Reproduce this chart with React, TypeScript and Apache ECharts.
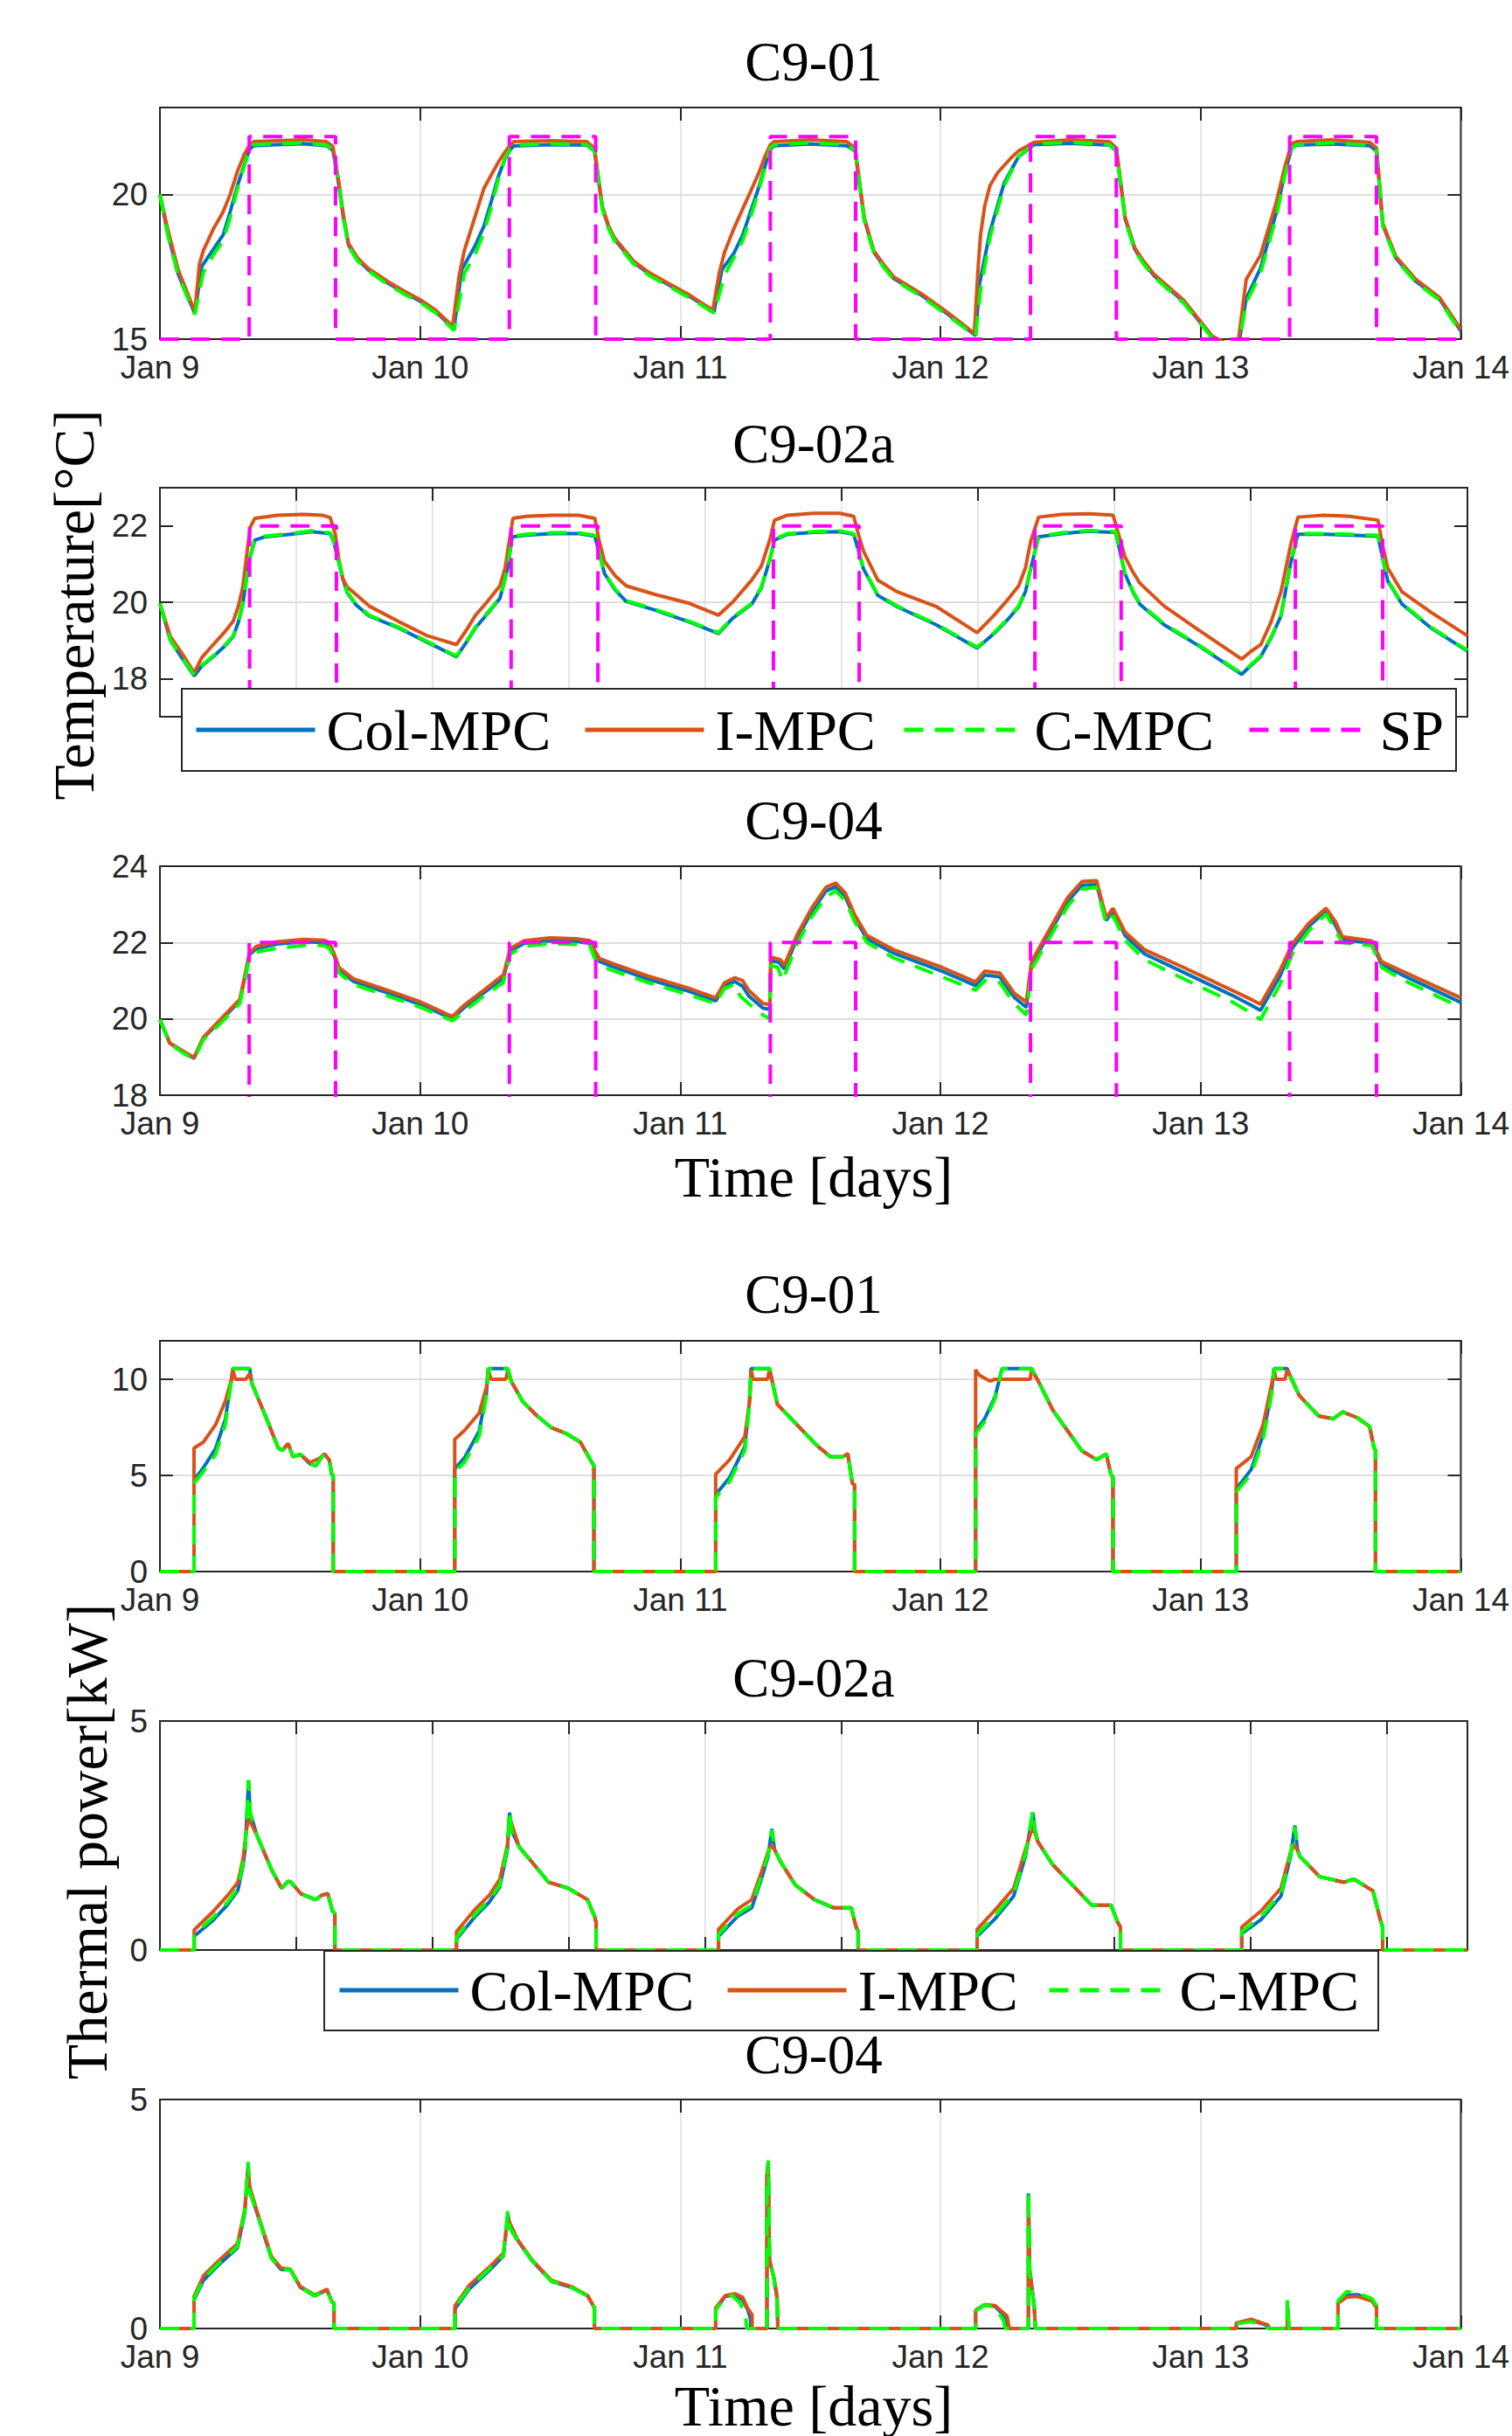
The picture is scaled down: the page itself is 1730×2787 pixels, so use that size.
import React, { useEffect, useRef } from 'react';
import * as echarts from 'echarts';

// ---------- DATA (x = days since Jan 9 00:00) ----------
const xTickDays = [0, 1, 2, 3, 4, 5];
const xTickLabels = ['Jan 9', 'Jan 10', 'Jan 11', 'Jan 12', 'Jan 13', 'Jan 14'];
const panelTitles = ['C9-01', 'C9-02a', 'C9-04', 'C9-01', 'C9-02a', 'C9-04'];

// ---- Temperature C9-01 ----
const t901Col = [[0,20.0],[0.03,18.65],[0.07,17.25],[0.134,15.88],[0.16,17.5],[0.205,18.1],[0.243,18.6],[0.27,19.4],[0.298,20.3],[0.325,21.05],[0.344,21.55],[0.36,21.68],[0.45,21.72],[0.55,21.75],[0.64,21.68],[0.665,21.52],[0.688,20.3],[0.705,19.2],[0.725,18.25],[0.76,17.75],[0.8,17.4],[0.874,16.95],[0.94,16.6],[1.003,16.3],[1.06,15.95],[1.13,15.35],
[1.16,17.4],[1.21,18.2],[1.245,18.9],[1.275,19.8],[1.30,20.6],[1.325,21.2],[1.347,21.55],[1.36,21.67],[1.5,21.72],[1.64,21.7],[1.67,21.5],[1.70,19.55],[1.725,18.85],[1.747,18.45],[1.82,17.65],[1.88,17.25],[1.95,16.9],[2.04,16.45],[2.13,15.95],
[2.16,17.4],[2.205,17.95],[2.24,18.6],[2.27,19.4],[2.30,20.2],[2.325,20.95],[2.345,21.55],[2.36,21.68],[2.5,21.74],[2.64,21.68],[2.672,21.5],[2.707,19.15],[2.744,18.0],[2.78,17.55],[2.82,17.1],[2.93,16.5],[3.03,15.85],[3.135,15.12],
[3.15,16.9],[3.19,18.7],[3.245,20.4],[3.30,21.3],[3.36,21.72],[3.5,21.76],[3.65,21.7],[3.676,21.5],[3.71,19.15],[3.747,18.1],[3.78,17.65],[3.82,17.2],[3.934,16.3],[4.045,15.05],[4.1,14.8],[4.148,14.9],[4.175,16.4],[4.23,17.45],[4.29,19.35],[4.325,20.8],[4.35,21.6],[4.37,21.7],[4.5,21.74],[4.65,21.68],[4.676,21.5],[4.70,18.95],[4.75,17.8],[4.826,17.0],[4.917,16.4],[5.0,15.28]];
const t901I = [[0,20.0],[0.03,18.8],[0.07,17.4],[0.134,15.95],[0.152,17.6],[0.167,18.06],[0.205,18.8],[0.243,19.4],[0.27,20.0],[0.298,20.8],[0.325,21.4],[0.344,21.7],[0.36,21.82],[0.45,21.85],[0.55,21.88],[0.64,21.82],[0.665,21.65],[0.688,20.4],[0.705,19.3],[0.725,18.3],[0.76,17.8],[0.8,17.45],[0.874,17.0],[0.94,16.65],[1.003,16.35],[1.06,16.0],[1.125,15.45],
[1.15,17.2],[1.17,18.06],[1.21,19.2],[1.245,20.2],[1.275,20.7],[1.30,21.1],[1.325,21.45],[1.347,21.7],[1.36,21.82],[1.5,21.85],[1.64,21.82],[1.67,21.6],[1.70,19.6],[1.725,18.9],[1.747,18.5],[1.82,17.7],[1.88,17.3],[1.95,16.95],[2.04,16.5],[2.125,16.0],
[2.15,17.3],[2.17,18.0],[2.205,18.8],[2.24,19.5],[2.27,20.1],[2.30,20.7],[2.325,21.3],[2.345,21.7],[2.36,21.82],[2.5,21.88],[2.64,21.82],[2.672,21.6],[2.707,19.2],[2.744,18.05],[2.78,17.6],[2.82,17.15],[2.93,16.55],[3.03,15.9],[3.13,15.2],
[3.145,17.5],[3.154,18.6],[3.17,19.6],[3.19,20.3],[3.22,20.75],[3.245,21.0],[3.27,21.25],[3.30,21.5],[3.36,21.8],[3.5,21.88],[3.65,21.82],[3.676,21.6],[3.71,19.2],[3.747,18.15],[3.78,17.7],[3.82,17.25],[3.934,16.35],[4.045,15.1],[4.1,14.85],[4.145,14.95],[4.175,17.06],[4.23,17.9],[4.29,19.7],[4.325,21.0],[4.35,21.75],[4.37,21.82],[4.5,21.88],[4.65,21.8],[4.676,21.6],[4.70,19.0],[4.75,17.86],[4.826,17.07],[4.917,16.45],[5.0,15.34]];
const t901C = [[0,20.0],[0.03,18.6],[0.07,17.2],[0.134,15.85],[0.167,17.3],[0.205,17.9],[0.243,18.4],[0.27,19.2],[0.298,20.2],[0.325,21.0],[0.344,21.6],[0.36,21.72],[0.45,21.75],[0.55,21.78],[0.64,21.7],[0.665,21.55],[0.688,20.3],[0.705,19.2],[0.725,18.2],[0.76,17.7],[0.8,17.36],[0.874,16.9],[0.94,16.55],[1.003,16.25],[1.06,15.9],[1.13,15.3],
[1.17,17.27],[1.21,17.9],[1.245,18.67],[1.275,19.6],[1.30,20.5],[1.325,21.2],[1.347,21.6],[1.36,21.7],[1.5,21.75],[1.64,21.72],[1.67,21.5],[1.70,19.5],[1.725,18.8],[1.747,18.4],[1.82,17.6],[1.88,17.2],[1.95,16.85],[2.04,16.4],[2.13,15.9],
[2.17,17.2],[2.205,17.8],[2.24,18.4],[2.27,19.2],[2.30,20.1],[2.325,20.9],[2.345,21.6],[2.36,21.72],[2.5,21.78],[2.64,21.72],[2.672,21.5],[2.707,19.1],[2.744,17.97],[2.78,17.5],[2.82,17.06],[2.93,16.45],[3.03,15.8],[3.135,15.1],
[3.154,16.7],[3.19,18.5],[3.245,20.3],[3.30,21.3],[3.36,21.75],[3.5,21.8],[3.65,21.72],[3.676,21.5],[3.71,19.1],[3.747,18.06],[3.78,17.6],[3.82,17.15],[3.934,16.25],[4.045,15.03],[4.1,14.8],[4.148,14.9],[4.175,16.25],[4.23,17.27],[4.29,19.2],[4.325,20.7],[4.35,21.6],[4.37,21.72],[4.5,21.78],[4.65,21.7],[4.676,21.5],[4.70,18.9],[4.75,17.76],[4.826,16.97],[4.917,16.35],[5.0,15.24]];
const sp901 = [[0,15],[0.343,15],[0.343,22],[0.675,22],[0.675,15],[1.343,15],[1.343,22],[1.675,22],[1.675,15],[2.346,15],[2.346,22],[2.674,22],[2.674,15],[3.346,15],[3.346,22],[3.676,22],[3.676,15],[4.342,15],[4.342,22],[4.676,22],[4.676,15],[5,15]];

// ---- Temperature C9-02a ----
const t902Col = [[0,19.97],[0.04,19.0],[0.09,18.48],[0.131,18.07],[0.16,18.33],[0.205,18.58],[0.245,18.83],[0.28,19.1],[0.30,19.48],[0.317,19.95],[0.33,20.58],[0.345,21.18],[0.363,21.63],[0.40,21.71],[0.5,21.78],[0.58,21.85],[0.651,21.8],[0.665,21.58],[0.679,21.18],[0.697,20.68],[0.716,20.25],[0.75,19.93],[0.80,19.64],[0.911,19.33],[1.023,18.95],[1.134,18.57],
[1.17,18.93],[1.207,19.33],[1.25,19.68],[1.30,20.1],[1.315,20.48],[1.329,20.88],[1.347,21.71],[1.4,21.76],[1.5,21.8],[1.6,21.8],[1.663,21.73],[1.68,21.28],[1.70,20.75],[1.74,20.33],[1.783,20.02],[1.895,19.79],[2.025,19.48],[2.136,19.18],
[2.19,19.58],[2.263,19.95],[2.30,20.38],[2.335,21.18],[2.35,21.63],[2.4,21.78],[2.5,21.83],[2.6,21.85],[2.653,21.78],[2.67,21.38],[2.69,20.88],[2.745,20.18],[2.82,19.88],[2.968,19.41],[3.125,18.8],
[3.19,19.18],[3.24,19.53],[3.284,19.88],[3.31,20.28],[3.33,20.88],[3.36,21.71],[3.45,21.8],[3.55,21.86],[3.655,21.83],[3.67,21.38],[3.69,20.75],[3.72,20.28],[3.747,19.95],[3.84,19.41],[3.97,18.87],[4.137,18.11],
[4.17,18.33],[4.21,18.58],[4.25,19.08],[4.287,19.64],[4.324,21.02],[4.352,21.78],[4.45,21.78],[4.55,21.76],[4.658,21.73],[4.675,21.18],[4.695,20.56],[4.75,19.95],[4.86,19.33],[5.0,18.72]];
const t902I = [[0,19.97],[0.04,19.1],[0.09,18.6],[0.131,18.15],[0.16,18.55],[0.205,18.9],[0.245,19.2],[0.28,19.5],[0.30,19.9],[0.317,20.4],[0.333,21.3],[0.345,21.96],[0.363,22.2],[0.45,22.28],[0.55,22.3],[0.62,22.28],[0.651,22.22],[0.67,21.8],[0.685,21.1],[0.70,20.6],[0.716,20.4],[0.75,20.2],[0.80,19.9],[0.911,19.5],[1.023,19.12],[1.134,18.89],
[1.17,19.25],[1.207,19.66],[1.25,20.0],[1.30,20.43],[1.32,20.9],[1.337,21.65],[1.35,22.2],[1.4,22.25],[1.5,22.28],[1.6,22.28],[1.663,22.2],[1.68,21.6],[1.70,21.07],[1.74,20.7],[1.783,20.43],[1.895,20.2],[2.025,19.97],[2.136,19.66],
[2.19,20.0],[2.263,20.58],[2.30,20.95],[2.335,21.7],[2.35,22.15],[2.4,22.28],[2.5,22.33],[2.6,22.33],[2.653,22.25],[2.67,21.8],[2.69,21.35],[2.745,20.58],[2.82,20.27],[2.968,19.89],[3.125,19.2],
[3.19,19.66],[3.24,20.05],[3.284,20.43],[3.31,20.9],[3.33,21.6],[3.36,22.23],[3.45,22.3],[3.55,22.32],[3.645,22.28],[3.665,21.8],[3.69,21.2],[3.72,20.8],[3.747,20.5],[3.84,19.9],[3.97,19.28],[4.137,18.51],
[4.17,18.7],[4.21,18.89],[4.25,19.5],[4.287,20.27],[4.324,21.5],[4.352,22.23],[4.45,22.28],[4.55,22.25],[4.658,22.15],[4.675,21.5],[4.695,20.9],[4.75,20.27],[4.86,19.74],[5.0,19.12]];
const t902C = [[0,19.97],[0.04,19.0],[0.09,18.5],[0.131,18.09],[0.16,18.35],[0.205,18.6],[0.245,18.85],[0.28,19.12],[0.30,19.5],[0.317,19.97],[0.33,20.6],[0.345,21.2],[0.363,21.65],[0.40,21.73],[0.5,21.8],[0.58,21.87],[0.651,21.82],[0.665,21.6],[0.679,21.2],[0.697,20.7],[0.716,20.27],[0.75,19.95],[0.80,19.66],[0.911,19.35],[1.023,18.97],[1.134,18.59],
[1.17,18.95],[1.207,19.35],[1.25,19.7],[1.30,20.12],[1.315,20.5],[1.329,20.9],[1.347,21.73],[1.4,21.78],[1.5,21.82],[1.6,21.82],[1.663,21.75],[1.68,21.3],[1.70,20.77],[1.74,20.35],[1.783,20.04],[1.895,19.81],[2.025,19.5],[2.136,19.2],
[2.19,19.6],[2.263,19.97],[2.30,20.4],[2.335,21.2],[2.35,21.65],[2.4,21.8],[2.5,21.85],[2.6,21.87],[2.653,21.8],[2.67,21.4],[2.69,20.9],[2.745,20.2],[2.82,19.9],[2.968,19.43],[3.125,18.82],
[3.19,19.2],[3.24,19.55],[3.284,19.9],[3.31,20.3],[3.33,20.9],[3.36,21.73],[3.45,21.82],[3.55,21.88],[3.655,21.85],[3.67,21.4],[3.69,20.77],[3.72,20.3],[3.747,19.97],[3.84,19.43],[3.97,18.89],[4.137,18.13],
[4.17,18.35],[4.21,18.6],[4.25,19.1],[4.287,19.66],[4.324,21.04],[4.352,21.8],[4.45,21.8],[4.55,21.78],[4.658,21.75],[4.675,21.2],[4.695,20.58],[4.75,19.97],[4.86,19.35],[5.0,18.74]];
const sp902a = [[0,15],[0.343,15],[0.343,22],[0.675,22],[0.675,15],[1.343,15],[1.343,22],[1.675,22],[1.675,15],[2.346,15],[2.346,22],[2.674,22],[2.674,15],[3.346,15],[3.346,22],[3.676,22],[3.676,15],[4.342,15],[4.342,22],[4.676,22],[4.676,15],[5,15]];

// ---- Temperature C9-04 ----
const t904Col = [[0,19.98],[0.038,19.36],[0.09,19.13],[0.131,18.97],[0.167,19.5],[0.243,20.02],[0.307,20.47],[0.326,21.08],[0.344,21.68],[0.371,21.84],[0.45,21.96],[0.55,22.02],[0.63,22.0],[0.651,21.94],[0.67,21.65],[0.688,21.28],[0.744,20.98],[0.874,20.68],[1.003,20.37],[1.124,20.0],
[1.17,20.3],[1.245,20.68],[1.32,21.07],[1.347,21.78],[1.4,21.98],[1.5,22.05],[1.6,22.03],[1.654,21.98],[1.67,21.72],[1.69,21.5],[1.747,21.35],[1.876,21.04],[2.025,20.74],[2.136,20.47],[2.17,20.87],[2.21,20.98],[2.24,20.85],[2.263,20.6],[2.318,20.28],[2.344,20.25],
[2.348,21.52],[2.38,21.48],[2.4,21.3],[2.448,22.1],[2.503,22.78],[2.56,23.35],[2.597,23.46],[2.634,23.2],[2.67,22.65],[2.717,22.1],[2.82,21.72],[3.006,21.25],[3.135,20.87],[3.17,21.15],[3.228,21.1],[3.284,20.56],[3.33,20.3],
[3.35,21.42],[3.413,22.18],[3.489,23.08],[3.544,23.5],[3.6,23.52],[3.637,22.58],[3.663,22.82],[3.71,22.18],[3.785,21.7],[3.934,21.22],[4.12,20.62],[4.194,20.36],[4.23,20.22],
[4.305,21.12],[4.352,21.85],[4.415,22.42],[4.482,22.83],[4.518,22.45],[4.545,22.08],[4.6,22.03],[4.658,21.98],[4.695,21.43],[4.769,21.17],[5.0,20.43]];
const t904I = [[0,19.98],[0.038,19.37],[0.09,19.15],[0.131,18.99],[0.167,19.52],[0.243,20.06],[0.307,20.51],[0.326,21.12],[0.344,21.73],[0.371,21.9],[0.45,22.02],[0.55,22.08],[0.63,22.06],[0.651,22.0],[0.67,21.7],[0.688,21.35],[0.744,21.05],[0.874,20.75],[1.003,20.44],[1.124,20.06],
[1.17,20.36],[1.245,20.75],[1.32,21.15],[1.347,21.85],[1.4,22.05],[1.5,22.12],[1.6,22.1],[1.654,22.05],[1.67,21.8],[1.69,21.58],[1.747,21.43],[1.876,21.12],[2.025,20.82],[2.136,20.55],[2.17,20.95],[2.21,21.08],[2.24,21.0],[2.263,20.75],[2.318,20.4],[2.344,20.38],
[2.348,21.62],[2.385,21.55],[2.4,21.4],[2.448,22.19],[2.503,22.88],[2.56,23.45],[2.597,23.56],[2.634,23.3],[2.67,22.73],[2.717,22.19],[2.82,21.81],[3.006,21.35],[3.135,20.97],[3.17,21.25],[3.228,21.2],[3.284,20.67],[3.33,20.44],
[3.35,21.5],[3.413,22.27],[3.489,23.18],[3.544,23.6],[3.6,23.62],[3.637,22.65],[3.663,22.9],[3.71,22.27],[3.785,21.81],[3.934,21.35],[4.12,20.75],[4.194,20.51],[4.23,20.38],
[4.305,21.27],[4.352,21.96],[4.415,22.5],[4.482,22.9],[4.518,22.55],[4.545,22.15],[4.6,22.1],[4.658,22.04],[4.695,21.5],[4.769,21.27],[5.0,20.55]];
const t904C = [[0,19.98],[0.038,19.35],[0.09,19.1],[0.131,18.95],[0.167,19.45],[0.243,19.95],[0.307,20.4],[0.326,21.0],[0.344,21.6],[0.371,21.75],[0.45,21.85],[0.55,21.92],[0.63,21.92],[0.651,21.85],[0.67,21.6],[0.688,21.2],[0.744,20.9],[0.874,20.6],[1.003,20.3],[1.124,19.95],
[1.17,20.2],[1.245,20.6],[1.32,20.95],[1.347,21.7],[1.4,21.9],[1.5,21.97],[1.6,21.95],[1.654,21.9],[1.67,21.6],[1.69,21.4],[1.747,21.25],[1.876,20.95],[2.025,20.65],[2.136,20.4],[2.17,20.8],[2.21,20.9],[2.23,20.6],[2.263,20.4],[2.318,20.1],[2.344,20.0],
[2.348,21.4],[2.375,21.35],[2.393,21.0],[2.41,21.3],[2.448,21.95],[2.503,22.65],[2.56,23.2],[2.597,23.35],[2.634,23.1],[2.67,22.55],[2.717,22.0],[2.82,21.6],[3.006,21.1],[3.135,20.75],[3.17,21.0],[3.228,20.95],[3.284,20.4],[3.33,20.1],
[3.35,21.3],[3.413,22.05],[3.489,22.95],[3.544,23.4],[3.6,23.45],[3.637,22.5],[3.663,22.7],[3.71,22.05],[3.785,21.55],[3.934,21.05],[4.12,20.45],[4.194,20.15],[4.23,19.98],
[4.305,20.9],[4.352,21.7],[4.415,22.3],[4.482,22.75],[4.518,22.3],[4.545,22.0],[4.6,21.95],[4.658,21.92],[4.695,21.35],[4.769,21.05],[5.0,20.3]];
const sp904 = [[0,15],[0.343,15],[0.343,22],[0.675,22],[0.675,15],[1.343,15],[1.343,22],[1.675,22],[1.675,15],[2.346,15],[2.346,22],[2.674,22],[2.674,15],[3.346,15],[3.346,22],[3.676,22],[3.676,15],[4.342,15],[4.342,22],[4.676,22],[4.676,15],[5,15]];

// ---- Thermal power C9-01 [kW] ----
const p901Col = [[0,0],[0.131,0],[0.131,4.75],[0.167,5.4],[0.214,6.4],[0.251,7.9],[0.275,10.0],[0.28,10.56],[0.345,10.56],[0.354,9.76],[0.41,7.94],[0.455,6.42],[0.47,6.3],[0.493,6.65],[0.511,5.97],[0.539,6.1],[0.577,5.6],[0.6,5.5],[0.614,5.8],[0.632,6.12],[0.651,5.8],[0.66,5.06],[0.666,5.0],[0.666,0],
[1.133,0],[1.133,5.35],[1.17,5.9],[1.227,7.3],[1.255,9.3],[1.262,10.56],[1.337,10.56],[1.35,9.9],[1.394,8.85],[1.45,8.09],[1.505,7.48],[1.561,7.18],[1.616,6.73],[1.654,5.82],[1.668,5.5],[1.668,0],
[2.136,0],[2.136,4.0],[2.19,4.9],[2.248,6.5],[2.265,8.7],[2.272,10.56],[2.343,10.56],[2.373,8.7],[2.448,7.64],[2.523,6.58],[2.577,5.97],[2.624,5.97],[2.644,6.12],[2.661,4.6],[2.67,4.5],[2.67,0],
[3.135,0],[3.135,7.3],[3.17,7.95],[3.21,9.1],[3.237,10.56],[3.35,10.56],[3.376,9.9],[3.432,8.39],[3.488,7.33],[3.544,6.27],[3.6,5.82],[3.637,6.12],[3.655,5.06],[3.663,4.9],[3.663,0],
[4.137,0],[4.137,4.3],[4.194,5.3],[4.24,7.1],[4.272,9.3],[4.282,10.56],[4.332,10.56],[4.379,9.15],[4.454,8.09],[4.509,7.94],[4.546,8.3],[4.602,8.0],[4.649,7.55],[4.667,6.42],[4.672,6.3],[4.672,0],[5,0]];
const p901I = [[0,0],[0.131,0],[0.131,6.42],[0.167,6.73],[0.214,7.64],[0.251,8.85],[0.275,10.0],[0.28,10.5],[0.29,10.0],[0.33,10.0],[0.345,10.3],[0.354,9.76],[0.41,7.94],[0.455,6.42],[0.47,6.3],[0.493,6.65],[0.511,5.97],[0.539,6.1],[0.577,5.67],[0.614,5.9],[0.632,6.12],[0.651,5.8],[0.66,5.06],[0.666,5.0],[0.666,0],
[1.133,0],[1.133,6.88],[1.17,7.33],[1.227,8.24],[1.255,9.6],[1.262,10.5],[1.272,10.0],[1.33,10.0],[1.337,10.5],[1.35,9.9],[1.394,8.85],[1.45,8.09],[1.505,7.48],[1.561,7.18],[1.616,6.73],[1.654,5.82],[1.668,5.5],[1.668,0],
[2.136,0],[2.136,5.06],[2.19,5.82],[2.248,7.03],[2.268,9.0],[2.272,10.5],[2.28,10.0],[2.335,10.0],[2.343,10.5],[2.373,8.7],[2.448,7.64],[2.523,6.58],[2.577,5.97],[2.624,5.97],[2.644,6.12],[2.661,4.6],[2.67,4.5],[2.67,0],
[3.135,0],[3.135,10.5],[3.15,10.2],[3.19,9.91],[3.21,10.0],[3.345,10.0],[3.35,10.5],[3.376,9.9],[3.432,8.39],[3.488,7.33],[3.544,6.27],[3.6,5.82],[3.637,6.12],[3.655,5.06],[3.663,4.9],[3.663,0],
[4.137,0],[4.137,5.36],[4.194,5.97],[4.24,7.64],[4.277,10.0],[4.282,10.5],[4.29,10.0],[4.325,10.0],[4.332,10.5],[4.379,9.15],[4.454,8.09],[4.509,7.94],[4.546,8.3],[4.602,8.0],[4.649,7.55],[4.667,6.42],[4.672,6.3],[4.672,0],[5,0]];
const p901C = [[0,0],[0.131,0],[0.131,4.6],[0.167,5.2],[0.214,6.1],[0.251,7.64],[0.275,10.0],[0.28,10.56],[0.345,10.56],[0.354,9.76],[0.41,7.94],[0.455,6.42],[0.47,6.3],[0.493,6.65],[0.511,5.97],[0.539,6.1],[0.577,5.6],[0.6,5.5],[0.614,5.8],[0.632,6.12],[0.651,5.8],[0.66,5.06],[0.666,5.0],[0.666,0],
[1.133,0],[1.133,5.2],[1.17,5.67],[1.227,7.03],[1.255,9.15],[1.262,10.56],[1.337,10.56],[1.35,9.9],[1.394,8.85],[1.45,8.09],[1.505,7.48],[1.561,7.18],[1.616,6.73],[1.654,5.82],[1.668,5.5],[1.668,0],
[2.136,0],[2.136,3.85],[2.19,4.7],[2.248,6.3],[2.265,8.5],[2.272,10.56],[2.343,10.56],[2.373,8.7],[2.448,7.64],[2.523,6.58],[2.577,5.97],[2.624,5.97],[2.644,6.12],[2.661,4.6],[2.67,4.5],[2.67,0],
[3.135,0],[3.135,7.18],[3.17,7.79],[3.21,9.0],[3.237,10.56],[3.35,10.56],[3.376,9.9],[3.432,8.39],[3.488,7.33],[3.544,6.27],[3.6,5.82],[3.637,6.12],[3.655,5.06],[3.663,4.9],[3.663,0],
[4.137,0],[4.137,4.15],[4.194,5.06],[4.24,6.88],[4.272,9.15],[4.282,10.56],[4.332,10.56],[4.379,9.15],[4.454,8.09],[4.509,7.94],[4.546,8.3],[4.602,8.0],[4.649,7.55],[4.667,6.42],[4.672,6.3],[4.672,0],[5,0]];

// ---- Thermal power C9-02a [kW] ----
const p902Col = [[0,0],[0.131,0],[0.131,0.3],[0.205,0.66],[0.26,1.0],[0.298,1.3],[0.318,1.85],[0.326,2.2],[0.339,3.7],[0.345,3.0],[0.371,2.5],[0.428,1.74],[0.465,1.35],[0.49,1.5],[0.501,1.48],[0.539,1.23],[0.595,1.1],[0.62,1.2],[0.642,1.23],[0.66,0.85],[0.669,0.8],[0.669,0],
[1.134,0],[1.134,0.24],[1.207,0.74],[1.26,1.05],[1.30,1.38],[1.329,2.2],[1.337,3.0],[1.345,2.6],[1.374,2.25],[1.43,1.87],[1.486,1.48],[1.561,1.35],[1.635,1.1],[1.663,0.72],[1.668,0.6],[1.668,0],
[2.136,0],[2.136,0.3],[2.21,0.74],[2.263,0.92],[2.30,1.55],[2.326,2.05],[2.34,2.65],[2.35,2.2],[2.373,1.93],[2.43,1.42],[2.503,1.1],[2.577,0.92],[2.644,0.92],[2.661,0.53],[2.67,0.4],[2.67,0],
[3.125,0],[3.125,0.3],[3.19,0.66],[3.265,1.18],[3.31,2.05],[3.338,3.0],[3.347,2.6],[3.357,2.37],[3.413,1.87],[3.489,1.42],[3.563,0.98],[3.637,0.98],[3.663,0.6],[3.673,0.5],[3.673,0],
[4.137,0],[4.137,0.36],[4.21,0.66],[4.287,1.18],[4.324,2.05],[4.34,2.72],[4.35,2.2],[4.36,2.04],[4.435,1.6],[4.528,1.48],[4.565,1.55],[4.639,1.29],[4.667,0.66],[4.676,0.5],[4.676,0],[5,0]];
const p902I = [[0,0],[0.131,0],[0.131,0.44],[0.205,0.85],[0.26,1.2],[0.298,1.48],[0.318,2.0],[0.33,2.6],[0.339,2.88],[0.371,2.5],[0.428,1.74],[0.465,1.35],[0.49,1.5],[0.501,1.48],[0.539,1.23],[0.595,1.1],[0.62,1.2],[0.642,1.23],[0.66,0.85],[0.669,0.8],[0.669,0],
[1.134,0],[1.134,0.4],[1.207,0.9],[1.26,1.2],[1.30,1.55],[1.329,2.3],[1.337,2.9],[1.374,2.25],[1.43,1.87],[1.486,1.48],[1.561,1.35],[1.635,1.1],[1.663,0.72],[1.668,0.6],[1.668,0],
[2.136,0],[2.136,0.45],[2.21,0.9],[2.263,1.1],[2.30,1.7],[2.326,2.15],[2.34,2.3],[2.373,1.93],[2.43,1.42],[2.503,1.1],[2.577,0.92],[2.644,0.92],[2.661,0.53],[2.67,0.4],[2.67,0],
[3.125,0],[3.125,0.45],[3.19,0.85],[3.265,1.35],[3.31,2.2],[3.338,2.7],[3.357,2.37],[3.413,1.87],[3.489,1.42],[3.563,0.98],[3.637,0.98],[3.663,0.6],[3.673,0.5],[3.673,0],
[4.137,0],[4.137,0.5],[4.21,0.85],[4.287,1.35],[4.324,2.15],[4.34,2.3],[4.36,2.04],[4.435,1.6],[4.528,1.48],[4.565,1.55],[4.639,1.29],[4.667,0.66],[4.676,0.5],[4.676,0],[5,0]];
const p902C = [[0,0],[0.131,0],[0.131,0.34],[0.205,0.72],[0.26,1.05],[0.298,1.35],[0.318,1.9],[0.326,2.25],[0.339,3.71],[0.345,3.0],[0.371,2.5],[0.428,1.74],[0.465,1.35],[0.49,1.5],[0.501,1.48],[0.539,1.23],[0.595,1.1],[0.62,1.2],[0.642,1.23],[0.66,0.85],[0.669,0.8],[0.669,0],
[1.134,0],[1.134,0.27],[1.207,0.79],[1.26,1.1],[1.30,1.42],[1.329,2.25],[1.337,3.04],[1.345,2.6],[1.374,2.25],[1.43,1.87],[1.486,1.48],[1.561,1.35],[1.635,1.1],[1.663,0.72],[1.668,0.6],[1.668,0],
[2.136,0],[2.136,0.34],[2.21,0.79],[2.263,0.98],[2.30,1.6],[2.326,2.1],[2.34,2.63],[2.35,2.2],[2.373,1.93],[2.43,1.42],[2.503,1.1],[2.577,0.92],[2.644,0.92],[2.661,0.53],[2.67,0.4],[2.67,0],
[3.125,0],[3.125,0.34],[3.19,0.72],[3.265,1.23],[3.31,2.1],[3.338,3.04],[3.347,2.6],[3.357,2.37],[3.413,1.87],[3.489,1.42],[3.563,0.98],[3.637,0.98],[3.663,0.6],[3.673,0.5],[3.673,0],
[4.137,0],[4.137,0.4],[4.21,0.72],[4.287,1.23],[4.324,2.1],[4.34,2.69],[4.35,2.2],[4.36,2.04],[4.435,1.6],[4.528,1.48],[4.565,1.55],[4.639,1.29],[4.667,0.66],[4.676,0.5],[4.676,0],[5,0]];

// ---- Thermal power C9-04 [kW] ----
const p904Col = [[0,0],[0.131,0],[0.131,0.62],[0.167,1.05],[0.224,1.38],[0.298,1.76],[0.326,2.52],[0.339,3.55],[0.345,3.0],[0.371,2.56],[0.428,1.54],[0.465,1.29],[0.501,1.29],[0.539,0.9],[0.595,0.71],[0.642,0.84],[0.66,0.59],[0.669,0.55],[0.669,0],
[1.134,0],[1.134,0.43],[1.19,0.87],[1.264,1.26],[1.32,1.58],[1.337,2.5],[1.345,2.2],[1.374,1.93],[1.43,1.48],[1.505,1.03],[1.58,0.9],[1.644,0.71],[1.663,0.52],[1.67,0.45],[1.67,0],
[2.136,0],[2.136,0.42],[2.173,0.7],[2.21,0.74],[2.24,0.62],[2.26,0.4],[2.27,0.2],[2.27,0],[2.333,0],[2.333,3.3],[2.338,3.62],[2.343,1.5],[2.36,1.1],[2.372,0.65],[2.375,0],
[3.135,0],[3.135,0.39],[3.17,0.52],[3.21,0.48],[3.25,0.25],[3.26,0],[3.338,0],[3.338,2.95],[3.343,1.25],[3.36,0.5],[3.365,0],
[4.137,0],[4.137,0.11],[4.194,0.18],[4.25,0.08],[4.262,0],[4.333,0],[4.333,0.58],[4.339,0],[4.528,0],[4.528,0.58],[4.56,0.72],[4.602,0.74],[4.658,0.62],[4.676,0.48],[4.676,0],[5,0]];
const p904I = [[0,0],[0.131,0],[0.131,0.7],[0.167,1.15],[0.224,1.47],[0.298,1.85],[0.326,2.6],[0.339,3.5],[0.345,3.1],[0.371,2.6],[0.428,1.58],[0.465,1.32],[0.501,1.3],[0.539,0.92],[0.595,0.73],[0.642,0.86],[0.66,0.6],[0.669,0.55],[0.669,0],
[1.134,0],[1.134,0.5],[1.19,0.95],[1.264,1.33],[1.32,1.65],[1.337,2.4],[1.374,1.95],[1.43,1.5],[1.505,1.05],[1.58,0.92],[1.644,0.72],[1.663,0.52],[1.67,0.45],[1.67,0],
[2.136,0],[2.136,0.45],[2.173,0.72],[2.21,0.76],[2.24,0.68],[2.257,0.46],[2.276,0.3],[2.276,0],[2.333,0],[2.333,3.4],[2.338,3.6],[2.343,1.48],[2.36,1.1],[2.372,0.7],[2.375,0],
[3.135,0],[3.135,0.4],[3.17,0.52],[3.21,0.5],[3.256,0.27],[3.265,0],[3.338,0],[3.338,2.9],[3.343,1.3],[3.36,0.5],[3.365,0],
[4.137,0],[4.137,0.12],[4.194,0.2],[4.258,0.08],[4.265,0],[4.333,0],[4.333,0.55],[4.339,0],[4.528,0],[4.528,0.55],[4.56,0.68],[4.602,0.7],[4.658,0.6],[4.676,0.45],[4.676,0],[5,0]];
const p904C = [[0,0],[0.131,0],[0.131,0.65],[0.167,1.09],[0.224,1.41],[0.298,1.79],[0.326,2.56],[0.339,3.64],[0.345,3.0],[0.371,2.56],[0.428,1.54],[0.465,1.29],[0.501,1.29],[0.539,0.9],[0.595,0.71],[0.642,0.84],[0.66,0.59],[0.669,0.55],[0.669,0],
[1.134,0],[1.134,0.46],[1.19,0.9],[1.264,1.29],[1.32,1.6],[1.337,2.56],[1.345,2.2],[1.374,1.93],[1.43,1.48],[1.505,1.03],[1.58,0.9],[1.644,0.71],[1.663,0.52],[1.67,0.45],[1.67,0],
[2.136,0],[2.136,0.4],[2.173,0.68],[2.2,0.72],[2.23,0.55],[2.25,0.3],[2.256,0],[2.333,0],[2.333,3.1],[2.338,3.67],[2.343,1.5],[2.36,1.1],[2.372,0.6],[2.375,0],
[3.135,0],[3.135,0.38],[3.17,0.52],[3.21,0.45],[3.24,0.2],[3.25,0],[3.338,0],[3.338,3.0],[3.343,1.2],[3.36,0.5],[3.365,0],
[4.137,0],[4.137,0.1],[4.194,0.15],[4.24,0.08],[4.258,0],[4.333,0],[4.333,0.62],[4.339,0],[4.528,0],[4.528,0.6],[4.56,0.8],[4.602,0.78],[4.658,0.65],[4.676,0.5],[4.676,0],[5,0]];

// ---------- STYLE / LAYOUT ----------
const COLORS: Record<string, string> = { 'Col-MPC': '#0072BD', 'I-MPC': '#D95319', 'C-MPC': '#00FF00', 'SP': '#FF00FF' };
const DASHED: Record<string, boolean> = { 'Col-MPC': false, 'I-MPC': false, 'C-MPC': true, 'SP': true };
const AX = '#262626';
const GRIDC = '#dedede';
const SERIF = "'Liberation Serif', 'Times New Roman', serif";
const SANS = "'Liberation Sans', Arial, Helvetica, sans-serif";
const PLOT_LEFT = 183;
const PLOT_W = 1496;
const HALF_TICK = 0.5214;

const PANELS = [
  { top: 123, height: 265, yMin: 15, yMax: 23, yInterval: 5, yShow: [15, 20], xInterval: 1, xLabels: true,
    series: [['Col-MPC', t901Col], ['I-MPC', t901I], ['C-MPC', t901C], ['SP', sp901]] },
  { top: 558, height: 262, yMin: 17, yMax: 23, yCustom: [18, 20, 22], xInterval: HALF_TICK, xLabels: false,
    series: [['Col-MPC', t902Col], ['I-MPC', t902I], ['C-MPC', t902C], ['SP', sp902a]] },
  { top: 991, height: 262, yMin: 18, yMax: 24, yInterval: 2, xInterval: 1, xLabels: true,
    series: [['Col-MPC', t904Col], ['I-MPC', t904I], ['C-MPC', t904C], ['SP', sp904]] },
  { top: 1534, height: 264, yMin: 0, yMax: 12, yInterval: 5, yShow: [0, 5, 10], xInterval: 1, xLabels: true,
    series: [['Col-MPC', p901Col], ['I-MPC', p901I], ['C-MPC', p901C]] },
  { top: 1969, height: 262, yMin: 0, yMax: 5, yInterval: 5, xInterval: HALF_TICK, xLabels: false,
    series: [['Col-MPC', p902Col], ['I-MPC', p902I], ['C-MPC', p902C]] },
  { top: 2402, height: 262, yMin: 0, yMax: 5, yInterval: 5, xInterval: 1, xLabels: true,
    series: [['Col-MPC', p904Col], ['I-MPC', p904I], ['C-MPC', p904C]] },
] as any[];

const TITLE_Y = [71, 508, 939, 1481, 1920, 2351];

function buildOption() {
  const grid: any[] = [];
  const xAxis: any[] = [];
  const yAxis: any[] = [];
  const series: any[] = [];
  const tick = { show: true, inside: true, length: 15, lineStyle: { color: AX, width: 2 } };
  PANELS.forEach((p, i) => {
    grid.push({ left: PLOT_LEFT, top: p.top, width: PLOT_W, height: p.height, show: true,
      borderColor: AX, borderWidth: 2, backgroundColor: 'transparent', containLabel: false });
    const xBase = { type: 'value', gridIndex: i, min: 0, max: 5, interval: p.xInterval,
      axisLine: { show: false, onZero: false } };
    xAxis.push({ ...xBase, position: 'bottom', axisTick: tick,
      axisLabel: { show: p.xLabels, color: AX, fontFamily: SANS, fontSize: 37, margin: 14,
        formatter: (v: number) => { const k = xTickDays.indexOf(Math.round(v)); return k >= 0 && Math.abs(v - Math.round(v)) < 1e-6 ? xTickLabels[k] : ''; } },
      splitLine: { show: true, showMinLine: false, showMaxLine: false, lineStyle: { color: GRIDC, width: 1.5 } } });
    xAxis.push({ ...xBase, position: 'top', axisTick: tick, axisLabel: { show: false }, splitLine: { show: false } });
    const yBase: any = { type: 'value', gridIndex: i, min: p.yMin, max: p.yMax,
      axisLine: { show: false, onZero: false } };
    if (p.yInterval) yBase.interval = p.yInterval;
    const yTick: any = { ...tick };
    const yLab: any = { show: true, color: AX, fontFamily: SANS, fontSize: 37, margin: 14 };
    if (p.yCustom) { yTick.customValues = p.yCustom; yLab.customValues = p.yCustom; }
    if (p.yShow) yLab.formatter = (v: number) => (p.yShow.includes(v) ? String(v) : '');
    yAxis.push({ ...yBase, position: 'left', axisTick: yTick, axisLabel: yLab,
      splitLine: { show: true, showMinLine: false, showMaxLine: false, lineStyle: { color: GRIDC, width: 2 } } });
    yAxis.push({ ...yBase, position: 'right', axisTick: { ...yTick }, axisLabel: { show: false }, splitLine: { show: false } });
    p.series.forEach(([name, data]: [string, number[][]], k: number) => {
      series.push({
        type: 'line', name, data, xAxisIndex: 2 * i, yAxisIndex: 2 * i,
        symbol: 'none', showSymbol: false, clip: true, silent: true, z: 2 + k,
        lineStyle: { color: COLORS[name], width: 4, type: DASHED[name] ? [22, 13] : 'solid' },
        itemStyle: { color: COLORS[name] },
        emphasis: { disabled: true },
      });
    });
  });

  const legendCommon = {
    orient: 'horizontal', padding: 0, itemWidth: 136, itemHeight: 2, itemGap: 0,
    selectedMode: false, z: 30, lineStyle: { width: 5 },
    itemStyle: { color: 'rgba(0,0,0,0)', opacity: 0, borderWidth: 0 },
    textStyle: { fontFamily: SERIF, fontSize: 66, lineHeight: 80, color: '#000', padding: [0, 0, 0, 8] },
  };
  const legend = [
    { ...legendCommon, data: ['Col-MPC'], left: 222, top: 795 },
    { ...legendCommon, data: ['I-MPC'], left: 667, top: 795 },
    { ...legendCommon, data: ['C-MPC'], left: 1032, top: 795 },
    { ...legendCommon, data: ['SP'], left: 1427, top: 795 },
    { ...legendCommon, data: ['Col-MPC'], left: 386, top: 2237 },
    { ...legendCommon, data: ['I-MPC'], left: 830, top: 2237 },
    { ...legendCommon, data: ['C-MPC'], left: 1198, top: 2237 },
  ];

  const txt = (text: string, x: number, y: number, size: number, rot = 0) => ({
    type: 'text', x, y, rotation: rot, z: 20, silent: true,
    style: { text, fontFamily: SERIF, fontSize: size, fill: '#000', align: 'center', verticalAlign: 'middle',
      textAlign: 'center', textVerticalAlign: 'middle' },
  });
  const elements: any[] = [
    { type: 'rect', z: 15, silent: true, shape: { x: 208, y: 788, width: 1458, height: 94 },
      style: { fill: '#fff', stroke: AX, lineWidth: 2 } },
    { type: 'rect', z: 15, silent: true, shape: { x: 371, y: 2232, width: 1206, height: 91 },
      style: { fill: '#fff', stroke: AX, lineWidth: 2 } },
  ];
  panelTitles.forEach((t, i) => elements.push(txt(t, 931, TITLE_Y[i], 63)));
  elements.push(txt('Temperature[°C]', 84, 692, 66, Math.PI / 2));
  elements.push(txt('Thermal power[kW]', 99, 2107, 66, Math.PI / 2));
  elements.push(txt('Time [days]', 931, 1346, 66));
  elements.push(txt('Time [days]', 931, 2752, 66));

  return {
    animation: false,
    backgroundColor: '#fff',
    grid, xAxis, yAxis, series, legend,
    graphic: { elements },
  };
}

export default function App() {
  const ref = useRef<HTMLDivElement>(null);
  useEffect(() => {
    document.body.style.margin = '0';
    if (!ref.current) return;
    const chart = echarts.init(ref.current, undefined, { renderer: 'svg' });
    chart.setOption(buildOption() as any);
    return () => chart.dispose();
  }, []);
  return <div ref={ref} style={{ width: 1730, height: 2787, background: '#fff' }} />;
}
